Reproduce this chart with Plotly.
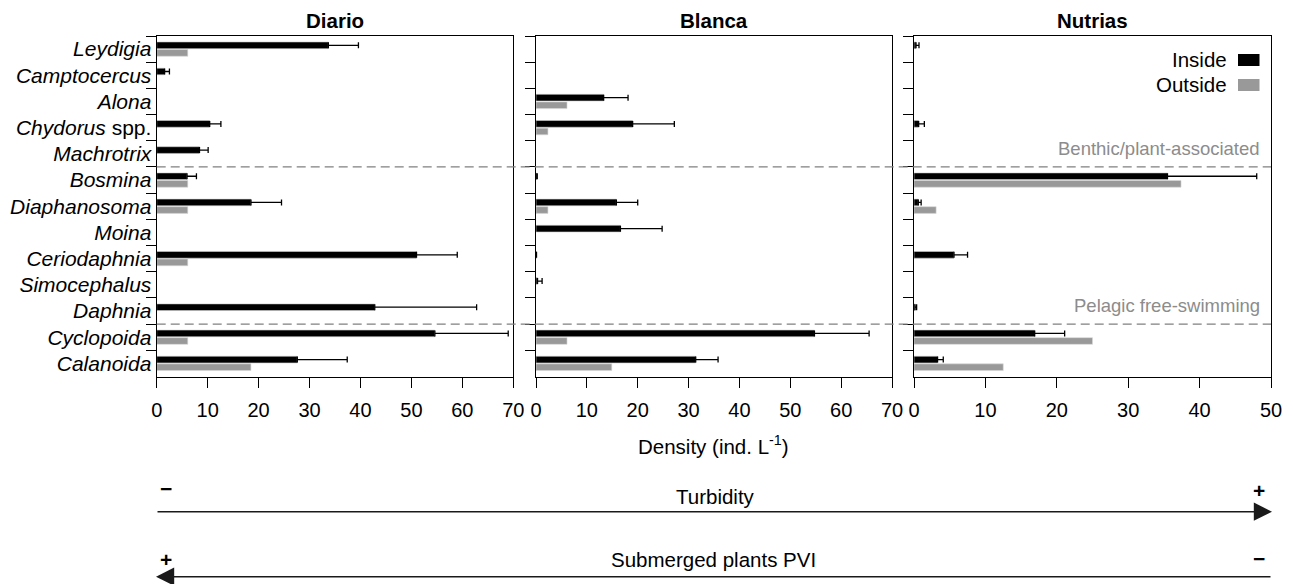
import plotly.graph_objects as go

W, H = 1293, 584

species = ["Leydigia", "Camptocercus", "Alona", "Chydorus", "Machrotrix",
           "Bosmina", "Diaphanosoma", "Moina", "Ceriodaphnia", "Simocephalus",
           "Daphnia", "Cyclopoida", "Calanoida"]
labels = ["<i>%s</i>" % s if s != "Chydorus" else "<i>Chydorus</i> spp." for s in species]

sites = ["Diario", "Blanca", "Nutrias"]
x_max = [70, 70, 50]

diario_inside = [33.7, 1.55, None, 10.4, 8.4, 5.95, 18.5, None, 51.0, None, 42.8, 54.6, 27.6]
diario_inside_se = [5.9, 0.95, None, 2.2, 1.7, 1.85, 6.0, None, 8.0, None, 20.0, 14.4, 9.8]
diario_outside = [6.1, None, None, None, None, 6.1, 6.1, None, 6.1, None, None, 6.1, 18.5]

blanca_inside = [None, None, 13.3, 19.0, None, 0.15, 15.8, 16.6, 0.1, 0.3, None, 54.75, 31.4]
blanca_inside_se = [None, None, 4.8, 8.2, None, 0.1, 4.2, 8.2, None, 0.9, None, 10.75, 4.4]
blanca_outside = [None, None, 6.1, 2.35, None, None, 2.35, None, None, None, None, 6.1, 14.9]

nutrias_inside = [0.28, None, None, 0.65, None, 35.5, 0.6, None, 5.6, None, 0.15, 16.9, 3.3]
nutrias_inside_se = [0.42, None, None, 0.8, None, 12.5, 0.4, None, 1.9, None, 0.22, 4.2, 0.8]
nutrias_outside = [None, None, None, None, None, 37.4, 3.1, None, None, None, None, 25.0, 12.5]

inside = [diario_inside, blanca_inside, nutrias_inside]
inside_se = [diario_inside_se, blanca_inside_se, nutrias_inside_se]
outside = [diario_outside, blanca_outside, nutrias_outside]

group_bounds = [4.5, 10.5]
group_names = ["Benthic/plant-associated", "Pelagic free-swimming"]

FONT = "Liberation Sans, Arial, Helvetica, sans-serif"
BLACK = "#000000"
GREY = "#999999"


def px(x):
    return x / W


def py(y):
    return 1 - y / H


fig = go.Figure()
for i, site in enumerate(sites):
    xa = "x" if i == 0 else "x%d" % (i + 1)
    ya = "y" if i == 0 else "y%d" % (i + 1)
    fig.add_trace(go.Bar(
        x=inside[i], y=labels, orientation="h", xaxis=xa, yaxis=ya,
        name="Inside", marker=dict(color=BLACK, line=dict(color="#cfcfcf", width=0.6)),
        error_x=dict(type="data", symmetric=False, array=inside_se[i],
                     arrayminus=[0 if v is not None else None for v in inside_se[i]],
                     color=BLACK, thickness=1.3, width=3),
        showlegend=False))
    fig.add_trace(go.Bar(
        x=outside[i], y=labels, orientation="h", xaxis=xa, yaxis=ya,
        name="Outside", marker=dict(color=GREY, line=dict(color="#d8d8d8", width=0.6)),
        showlegend=False))

x_domains = [(156.7, 513.3), (536.0, 892.0), (914.0, 1271.0)]
y_domain = [py(376.5), py(36.0)]

axis_common = dict(showline=True, linewidth=1.3, linecolor=BLACK, mirror=True,
                   ticks="outside", ticklen=10, tickwidth=1.3, tickcolor=BLACK,
                   showgrid=False, zeroline=False)

layout = dict(
    width=W, height=H, margin=dict(l=0, r=0, t=0, b=0),
    paper_bgcolor="white", plot_bgcolor="white",
    barmode="group", bargap=0.42, bargroupgap=0.12,
    font=dict(family=FONT, color=BLACK, size=20),
    showlegend=False,
)
for i in range(3):
    sx = "" if i == 0 else str(i + 1)
    layout["xaxis" + sx] = dict(
        domain=[px(x_domains[i][0]), px(x_domains[i][1])], range=[0, x_max[i]],
        anchor="y" + sx, tickmode="array", tickvals=list(range(0, x_max[i] + 1, 10)),
        tickfont=dict(size=20), ticklabelstandoff=5, automargin=False, **axis_common)
    ydict = dict(domain=y_domain, anchor="x" + sx, type="category",
                 tickson="boundaries", automargin=False, **axis_common)
    if i == 0:
        ydict.update(autorange="reversed", tickfont=dict(size=21),
                     ticklabelstandoff=0)
    else:
        ydict.update(matches="y", showticklabels=False)
    layout["yaxis" + sx] = ydict

fig.update_layout(**layout)

# group separators
for b in group_bounds:
    fig.add_shape(type="line", xref="paper", yref="y", x0=px(156.7), x1=px(1271),
                  y0=b, y1=b, line=dict(color="#808080", width=1.3, dash="9px,5px"))

ann = []
# panel titles
for i, site in enumerate(sites):
    cx = (x_domains[i][0] + x_domains[i][1]) / 2
    ann.append(dict(x=px(cx), y=py(21), xref="paper", yref="paper", text="<b>%s</b>" % site,
                    showarrow=False, xanchor="center", yanchor="middle", font=dict(size=20.5)))
# group labels
for b, name in zip(group_bounds, group_names):
    ann.append(dict(x=px(1262), y=b, xref="paper", yref="y", text=name, showarrow=False,
                    xanchor="right", yanchor="bottom", yshift=6,
                    font=dict(size=18.5, color="#8c8c8c")))
# legend
legend_items = [("Inside", BLACK, 60.0), ("Outside", GREY, 85.0)]
for name, col, yc in legend_items:
    ann.append(dict(x=px(1229), y=py(yc), xref="paper", yref="paper", text=name,
                    showarrow=False, xanchor="right", yanchor="middle", font=dict(size=20.5)))
    fig.add_shape(type="rect", xref="paper", yref="paper", x0=px(1238), x1=px(1259.5),
                  y0=py(yc - 6), y1=py(yc + 6), fillcolor=col, line=dict(width=0))
# axis title
ann.append(dict(x=px(714), y=py(445), xref="paper", yref="paper",
                text="Density (ind. L<sup>-1</sup>)", showarrow=False,
                xanchor="center", yanchor="middle", font=dict(size=20.5)))
# gradient arrows
ann.append(dict(x=px(715), y=py(496), xref="paper", yref="paper", text="Turbidity",
                showarrow=False, xanchor="center", yanchor="middle", font=dict(size=20.5)))
ann.append(dict(x=px(714), y=py(559.5), xref="paper", yref="paper", text="Submerged plants PVI",
                showarrow=False, xanchor="center", yanchor="middle", font=dict(size=20.5)))
signs = [("\u2212", 165.5, 488.5), ("+", 1259, 490.5), ("+", 165.5, 559), ("\u2212", 1259, 558)]
for s, sx_, sy_ in signs:
    ann.append(dict(x=px(sx_), y=py(sy_), xref="paper", yref="paper", text="<b>%s</b>" % s,
                    showarrow=False, xanchor="center", yanchor="middle", font=dict(size=21)))
arrow_left, arrow_right = 156.0, 1272.0
ann.append(dict(x=px(arrow_right), y=py(511.7), ax=arrow_left - arrow_right, ay=0,
                xref="paper", yref="paper", axref="pixel", ayref="pixel", text="",
                showarrow=True, arrowhead=2, arrowsize=2.6, arrowwidth=1.4,
                arrowcolor="#1a1a1a", standoff=0))
ann.append(dict(x=px(arrow_left), y=py(576.7), ax=arrow_right - arrow_left, ay=0,
                xref="paper", yref="paper", axref="pixel", ayref="pixel", text="",
                showarrow=True, arrowhead=2, arrowsize=2.6, arrowwidth=1.4,
                arrowcolor="#1a1a1a", standoff=0))
fig.update_layout(annotations=ann)

fig.write_html("out.html")
